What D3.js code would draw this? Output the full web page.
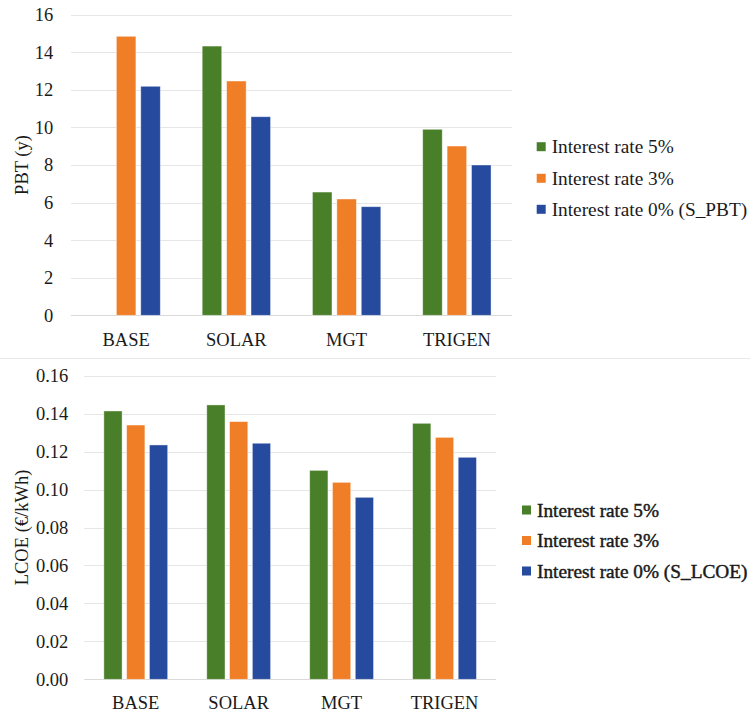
<!DOCTYPE html>
<html><head><meta charset="utf-8">
<script src="https://cdn.jsdelivr.net/npm/d3@7"></script>
<style>body{margin:0;background:#fff}svg{display:block}</style>
</head><body>
<svg id="c" width="750" height="714"></svg>
<script>
const categories = ["BASE", "SOLAR", "MGT", "TRIGEN"];
const seriesNamesPBT = ["Interest rate 5%", "Interest rate 3%", "Interest rate 0% (S_PBT)"];
const seriesNamesLCOE = ["Interest rate 5%", "Interest rate 3%", "Interest rate 0% (S_LCOE)"];
const colors = ["#4A7F2A", "#F07E26", "#264A9E"];
// PBT (y)
const pbt5 = [null, 14.33, 6.56, 9.90];
const pbt3 = [14.85, 12.47, 6.19, 9.01];
const pbt0 = [12.19, 10.57, 5.78, 8.00];
const pbtTicks = [0, 2, 4, 6, 8, 10, 12, 14, 16];
// LCOE (€/kWh)
const lcoe5 = [0.1414, 0.1446, 0.1101, 0.1349];
const lcoe3 = [0.1340, 0.1358, 0.1038, 0.1275];
const lcoe0 = [0.1235, 0.1244, 0.0959, 0.1170];
const lcoeTicks = [0, 0.02, 0.04, 0.06, 0.08, 0.10, 0.12, 0.14, 0.16];

const svg = d3.select("#c");
const FONT = "'Liberation Serif','Times New Roman',serif";

// separator between two panels
svg.append("line").attr("x1", 0).attr("x2", 750).attr("y1", 358.5).attr("y2", 358.5)
  .attr("stroke", "#e8e8e8").attr("stroke-width", 1.2);

function panel(o) {
  const g = svg.append("g");
  const y = d3.scaleLinear().domain([0, o.max]).range([o.y0, o.y1]);
  const x0 = d3.scaleBand().domain(categories).range([o.x0, o.x1]);
  const gw = x0.bandwidth() * 0.62;
  const x1 = d3.scaleBand().domain(d3.range(3)).range([-gw / 2, gw / 2]).paddingInner(0.2);

  // gridlines
  g.selectAll("line.grid").data(o.ticks).join("line")
    .attr("x1", o.x0).attr("x2", o.x1)
    .attr("y1", d => Math.round(y(d)) + 0.5).attr("y2", d => Math.round(y(d)) + 0.5)
    .attr("stroke", d => d === 0 ? "#d9d9d9" : "#e6e6e6").attr("stroke-width", 1.2);

  // y tick labels via axis
  const ax = g.append("g").attr("transform", `translate(${o.x0},0)`)
    .call(d3.axisLeft(y).tickValues(o.ticks).tickFormat(o.fmt).tickSize(0).tickPadding(o.tickPad));
  ax.attr("font-family", FONT);
  ax.select(".domain").remove();
  ax.selectAll("text").attr("font-family", FONT).attr("font-size", 18.5).attr("fill", "#1a1a1a");

  // bars
  o.series.forEach((vals, si) => {
    g.selectAll(null).data(vals.map((v, i) => ({ v, c: categories[i] })).filter(d => d.v != null))
      .join("rect")
      .attr("x", d => x0(d.c) + x0.bandwidth() / 2 + x1(si))
      .attr("width", x1.bandwidth())
      .attr("y", d => y(d.v))
      .attr("height", d => y(0) - y(d.v))
      .attr("fill", colors[si])
      .attr("stroke", "#ffffff").attr("stroke-opacity", 0.5).attr("stroke-width", 0.8);
  });

  // x category labels
  const xa = g.append("g").attr("transform", `translate(0,${o.y0})`)
    .call(d3.axisBottom(x0).tickSize(0).tickPadding(o.catPad));
  xa.attr("font-family", FONT);
  xa.select(".domain").remove();
  xa.selectAll("text").attr("font-family", FONT).attr("font-size", 18.5).attr("fill", "#1a1a1a");

  // y title
  g.append("text").attr("transform", `translate(${o.titleX},${(o.y0 + o.y1) / 2}) rotate(-90)`)
    .attr("text-anchor", "middle").attr("dominant-baseline", "central")
    .attr("font-family", FONT).attr("font-size", 18.5).attr("fill", "#1a1a1a").text(o.title);

  // legend
  const lg = g.append("g");
  o.names.forEach((n, i) => {
    const cy = o.legY[i];
    lg.append("rect").attr("x", o.legX).attr("y", cy - 4.5).attr("width", 9).attr("height", 9).attr("fill", colors[i]);
    const t = lg.append("text").attr("x", o.legX + 15).attr("y", cy).attr("dominant-baseline", "central")
      .attr("font-family", FONT).attr("font-size", 19.3).attr("fill", "#1a1a1a").text(n);
    if (o.boldish) t.attr("stroke", "#1a1a1a").attr("stroke-width", 0.45);
  });
}

panel({
  x0: 71, x1: 512, y0: 315.3, y1: 14.7, max: 16, ticks: pbtTicks, fmt: d3.format("d"),
  tickPad: 17.7, catPad: 18, series: [pbt5, pbt3, pbt0], title: "PBT (y)", titleX: 21.7,
  names: seriesNamesPBT, legX: 536.7, legY: [146.7, 178.3, 209.3], boldish: false
});

panel({
  x0: 84.3, x1: 496, y0: 679.3, y1: 375.7, max: 0.16, ticks: lcoeTicks, fmt: d3.format(".2f"),
  tickPad: 16, catPad: 17, series: [lcoe5, lcoe3, lcoe0], title: "LCOE (€/kWh)", titleX: 21.7,
  names: seriesNamesLCOE, legX: 522, legY: [510, 540.5, 571], boldish: true
});
</script>
</body></html>
